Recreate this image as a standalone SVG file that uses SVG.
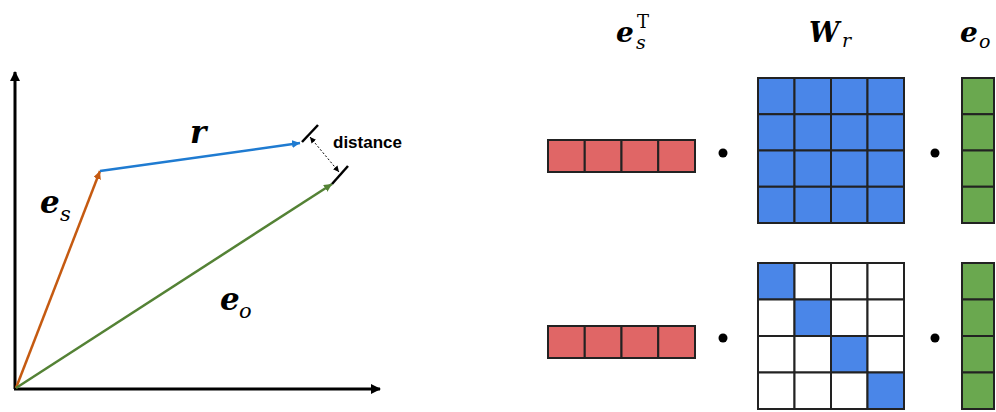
<svg xmlns="http://www.w3.org/2000/svg" width="996" height="412" viewBox="0 0 996 412">
<defs>
<style>
.ax{stroke:#000;stroke-width:3;fill:none}
.vec{stroke-width:2.5;fill:none}
.tick{stroke:#000;stroke-width:2.5}
.cell{stroke:#222;stroke-width:2}
.red{fill:#e06666}
.blue{fill:#4a86e8}
.green{fill:#6aa84f}
.white{fill:#fff}
.m{font-family:"DejaVu Serif","Liberation Serif",serif;font-weight:bold;font-style:italic;fill:#000}
.sub{font-family:"DejaVu Serif","Liberation Serif",serif;font-style:italic;fill:#000}
.up{font-family:"DejaVu Serif","Liberation Serif",serif;fill:#000}
.lbl{font-family:"Liberation Sans",Arial,sans-serif;font-weight:bold;font-size:17px;fill:#000}
</style>
<marker id="ak" markerWidth="10" markerHeight="10" refX="9" refY="5" orient="auto" markerUnits="userSpaceOnUse"><path d="M0,0 L10,5 L0,10 Z" fill="#000"/></marker>
<marker id="ao" markerWidth="8" markerHeight="8" refX="8" refY="4" orient="auto" markerUnits="userSpaceOnUse"><path d="M0,0 L8,4 L0,8 Z" fill="#c55a11"/></marker>
<marker id="ab" markerWidth="8" markerHeight="8" refX="8" refY="4" orient="auto" markerUnits="userSpaceOnUse"><path d="M0,0 L8,4 L0,8 Z" fill="#1f7bd1"/></marker>
<marker id="ag" markerWidth="8" markerHeight="8" refX="8" refY="4" orient="auto" markerUnits="userSpaceOnUse"><path d="M0,0 L8,4 L0,8 Z" fill="#548235"/></marker>
<marker id="ad" markerWidth="6" markerHeight="6" refX="6" refY="3" orient="auto-start-reverse" markerUnits="userSpaceOnUse"><path d="M0,0 L6,3 L0,6 Z" fill="#000"/></marker>
</defs>
<rect width="996" height="412" fill="#fff"/>

<g id="connectors">
<line class="ax" x1="15" y1="389" x2="15" y2="72" marker-end="url(#ak)"/>
<line class="ax" x1="14" y1="389" x2="380" y2="389" marker-end="url(#ak)"/>
<line class="vec" stroke="#c55a11" x1="16" y1="388" x2="100" y2="171" marker-end="url(#ao)"/>
<line class="vec" stroke="#1f7bd1" x1="100" y1="171" x2="300" y2="143" marker-end="url(#ab)"/>
<line class="vec" stroke="#548235" x1="16" y1="388" x2="332" y2="184" marker-end="url(#ag)"/>
<line class="tick" x1="302" y1="142" x2="318" y2="125"/>
<line class="tick" x1="332" y1="184" x2="348" y2="166"/>
<line stroke="#000" stroke-width="1" stroke-dasharray="2,2" x1="310" y1="137" x2="339" y2="172" marker-start="url(#ad)" marker-end="url(#ad)"/>
</g>

<g id="label-r"><text class="m" x="190" y="143" font-size="31">r</text></g>
<g id="label-es"><text class="m" x="40" y="213" font-size="31">e</text><text class="sub" x="60" y="221" font-size="21">s</text></g>
<g id="label-eo"><text class="m" x="220" y="310" font-size="31">e</text><text class="sub" x="239" y="318" font-size="21">o</text></g>
<g id="label-distance"><text class="lbl" x="333" y="148">distance</text></g>

<g id="title-esT"><text class="m" x="616" y="42" font-size="28">e</text><text class="sub" x="636" y="49" font-size="19">s</text><text class="up" x="637" y="28" font-size="18">T</text></g>
<g id="title-Wr"><text class="m" x="809" y="42" font-size="27">W</text><text class="sub" x="842" y="47" font-size="19">r</text></g>
<g id="title-eo"><text class="m" x="960" y="42" font-size="28">e</text><text class="sub" x="979" y="48" font-size="19">o</text></g>

<g id="row1-es">
<rect class="cell red" x="548" y="140" width="36.75" height="32"/>
<rect class="cell red" x="584.75" y="140" width="36.75" height="32"/>
<rect class="cell red" x="621.5" y="140" width="36.75" height="32"/>
<rect class="cell red" x="658.25" y="140" width="36.75" height="32"/>
</g>
<g id="row1-dot1"><circle cx="723" cy="153" r="4.5" fill="#000"/></g>
<g id="row1-Wr">
<rect class="cell blue" x="758" y="78" width="36.5" height="36.25"/>
<rect class="cell blue" x="794.5" y="78" width="36.5" height="36.25"/>
<rect class="cell blue" x="831" y="78" width="36.5" height="36.25"/>
<rect class="cell blue" x="867.5" y="78" width="36.5" height="36.25"/>
<rect class="cell blue" x="758" y="114.25" width="36.5" height="36.25"/>
<rect class="cell blue" x="794.5" y="114.25" width="36.5" height="36.25"/>
<rect class="cell blue" x="831" y="114.25" width="36.5" height="36.25"/>
<rect class="cell blue" x="867.5" y="114.25" width="36.5" height="36.25"/>
<rect class="cell blue" x="758" y="150.5" width="36.5" height="36.25"/>
<rect class="cell blue" x="794.5" y="150.5" width="36.5" height="36.25"/>
<rect class="cell blue" x="831" y="150.5" width="36.5" height="36.25"/>
<rect class="cell blue" x="867.5" y="150.5" width="36.5" height="36.25"/>
<rect class="cell blue" x="758" y="186.75" width="36.5" height="36.25"/>
<rect class="cell blue" x="794.5" y="186.75" width="36.5" height="36.25"/>
<rect class="cell blue" x="831" y="186.75" width="36.5" height="36.25"/>
<rect class="cell blue" x="867.5" y="186.75" width="36.5" height="36.25"/>
</g>
<g id="row1-dot2"><circle cx="935" cy="153" r="4.5" fill="#000"/></g>
<g id="row1-eo">
<rect class="cell green" x="962" y="78" width="32" height="36.25"/>
<rect class="cell green" x="962" y="114.25" width="32" height="36.25"/>
<rect class="cell green" x="962" y="150.5" width="32" height="36.25"/>
<rect class="cell green" x="962" y="186.75" width="32" height="36.25"/>
</g>

<g id="row2-es">
<rect class="cell red" x="548" y="326" width="36.75" height="32"/>
<rect class="cell red" x="584.75" y="326" width="36.75" height="32"/>
<rect class="cell red" x="621.5" y="326" width="36.75" height="32"/>
<rect class="cell red" x="658.25" y="326" width="36.75" height="32"/>
</g>
<g id="row2-dot1"><circle cx="723" cy="338" r="4.5" fill="#000"/></g>
<g id="row2-Wr">
<rect class="cell blue" x="758" y="263" width="36.5" height="36.5"/>
<rect class="cell white" x="794.5" y="263" width="36.5" height="36.5"/>
<rect class="cell white" x="831" y="263" width="36.5" height="36.5"/>
<rect class="cell white" x="867.5" y="263" width="36.5" height="36.5"/>
<rect class="cell white" x="758" y="299.5" width="36.5" height="36.5"/>
<rect class="cell blue" x="794.5" y="299.5" width="36.5" height="36.5"/>
<rect class="cell white" x="831" y="299.5" width="36.5" height="36.5"/>
<rect class="cell white" x="867.5" y="299.5" width="36.5" height="36.5"/>
<rect class="cell white" x="758" y="336" width="36.5" height="36.5"/>
<rect class="cell white" x="794.5" y="336" width="36.5" height="36.5"/>
<rect class="cell blue" x="831" y="336" width="36.5" height="36.5"/>
<rect class="cell white" x="867.5" y="336" width="36.5" height="36.5"/>
<rect class="cell white" x="758" y="372.5" width="36.5" height="36.5"/>
<rect class="cell white" x="794.5" y="372.5" width="36.5" height="36.5"/>
<rect class="cell white" x="831" y="372.5" width="36.5" height="36.5"/>
<rect class="cell blue" x="867.5" y="372.5" width="36.5" height="36.5"/>
</g>
<g id="row2-dot2"><circle cx="935" cy="338" r="4.5" fill="#000"/></g>
<g id="row2-eo">
<rect class="cell green" x="962" y="263" width="32" height="36.5"/>
<rect class="cell green" x="962" y="299.5" width="32" height="36.5"/>
<rect class="cell green" x="962" y="336" width="32" height="36.5"/>
<rect class="cell green" x="962" y="372.5" width="32" height="36.5"/>
</g>
</svg>
